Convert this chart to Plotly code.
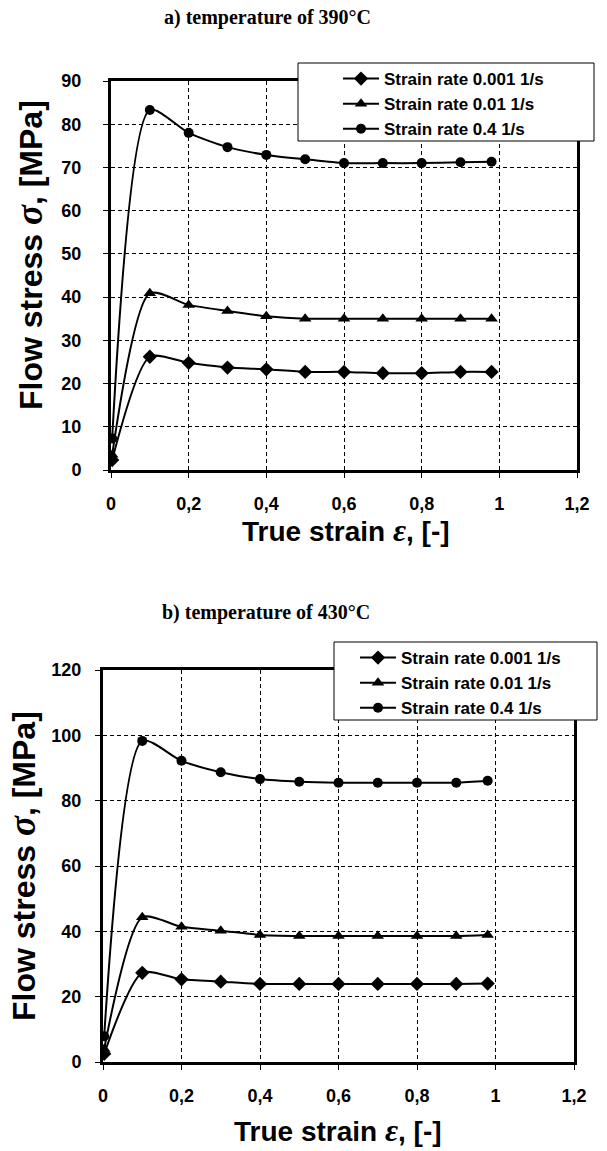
import plotly.graph_objects as go

# ---- data ----
strain = [0.003, 0.1, 0.2, 0.3, 0.4, 0.5, 0.6, 0.7, 0.8, 0.9, 0.98]

a_rate_0001 = [2.3, 26.2, 24.8, 23.7, 23.3, 22.7, 22.7, 22.4, 22.4, 22.7, 22.7]
a_rate_001 = [3.5, 40.9, 38.2, 36.8, 35.6, 35.0, 35.0, 35.0, 35.0, 35.0, 35.0]
a_rate_04 = [7.3, 83.3, 78.0, 74.7, 72.9, 71.9, 71.0, 71.0, 71.0, 71.2, 71.3]

b_rate_0001 = [2.5, 27.3, 25.3, 24.6, 23.9, 23.9, 23.9, 23.9, 23.9, 23.9, 24.0]
b_rate_001 = [4.0, 44.3, 41.4, 40.2, 38.9, 38.6, 38.6, 38.6, 38.6, 38.6, 38.9]
b_rate_04 = [7.9, 98.3, 92.2, 88.7, 86.6, 85.8, 85.5, 85.5, 85.5, 85.5, 86.1]

series_names = ["Strain rate 0.001 1/s", "Strain rate 0.01 1/s", "Strain rate 0.4 1/s"]
symbols = ["diamond", "triangle-up", "circle"]

x_tickvals = [0, 0.2, 0.4, 0.6, 0.8, 1.0, 1.2]
x_ticktext = ["0", "0,2", "0,4", "0,6", "0,8", "1", "1,2"]
a_yticks = [0, 10, 20, 30, 40, 50, 60, 70, 80, 90]
b_yticks = [0, 20, 40, 60, 80, 100, 120]

titles = ["a) temperature of 390°C", "b) temperature of 430°C"]
x_title = "True strain {e}, [-]"
y_title = "Flow stress {s}, [MPa]"

W, H = 607, 1151
fig = go.Figure()

def add_series(vals, xaxis, yaxis, legend):
    for name, sym, y in zip(series_names, symbols, vals):
        fig.add_trace(go.Scatter(
            x=strain, y=y, name="<b>%s</b>" % name, mode="lines+markers",
            line=dict(color="black", width=2, shape="spline", smoothing=0.7),
            marker=dict(symbol=sym, size=11 if sym != "circle" else 10, color="black"),
            xaxis=xaxis, yaxis=yaxis, legend=legend))

add_series([a_rate_0001, a_rate_001, a_rate_04], "x", "y", "legend")
add_series([b_rate_0001, b_rate_001, b_rate_04], "x2", "y2", "legend2")

tickfont = dict(family="Liberation Sans", size=18, color="black")
xtitlefont = dict(family="Liberation Sans", size=28, color="black")
ytitlefont = dict(family="Liberation Sans", size=32, color="black")

def xaxis_cfg(dom, anchor):
    return dict(domain=dom, anchor=anchor, range=[0, 1.2], tickvals=x_tickvals,
                ticktext=["<b>%s</b>" % t for t in x_ticktext], tickfont=tickfont,
                showline=True, linecolor="black", linewidth=3, mirror=True,
                showgrid=True, gridcolor="black", gridwidth=1, griddash="4px,3px",
                zeroline=False, ticks="outside", ticklen=5, tickcolor="black",
                ticklabelstandoff=10, automargin=False)

def yaxis_cfg(dom, anchor, rng, tv, standoff):
    return dict(domain=dom, anchor=anchor, range=rng, tickvals=tv,
                ticktext=["<b>%d</b>" % t for t in tv], tickfont=tickfont,
                showline=True, linecolor="black", linewidth=3, mirror=True,
                showgrid=True, gridcolor="black", gridwidth=1, griddash="4px,3px",
                zeroline=False, ticks="outside", ticklen=5, tickcolor="black",
                ticklabelstandoff=standoff, automargin=False)

xt = "<b>%s</b>" % x_title.format(
    e='<span style="font-family:Liberation Serif;font-size:32px"><i>ε</i></span>')
yt = "<b>%s</b>" % y_title.format(
    s='<span style="font-family:Liberation Serif;font-size:37px"><i>σ</i></span>')

def legend_cfg(x, y):
    return dict(x=x / W, y=1 - y / H, xanchor="left", yanchor="top",
                bgcolor="rgba(0,0,0,0)", borderwidth=0,
                font=dict(family="Liberation Sans", size=17, color="black"),
                itemwidth=36, tracegroupgap=0)

def ann(text, x, y, font, angle=0):
    return dict(text=text, x=x / W, y=1 - y / H, xref="paper", yref="paper",
                xanchor="center", yanchor="middle", textangle=angle,
                showarrow=False, font=font)

fig.update_layout(
    width=W, height=H, margin=dict(l=0, r=0, t=0, b=0, autoexpand=False),
    paper_bgcolor="white", plot_bgcolor="white",
    showlegend=True,
    xaxis=xaxis_cfg([111 / W, 577 / W], "y"),
    yaxis=yaxis_cfg([1 - 470 / H, 1 - 81 / H], "x", [0, 90], a_yticks, 18),
    xaxis2=xaxis_cfg([103 / W, 574 / W], "y2"),
    yaxis2=yaxis_cfg([1 - 1062 / H, 1 - 670 / H], "x2", [0, 120], b_yticks, 10),
    legend=legend_cfg(338, 61),
    legend2=legend_cfg(355, 640),
    shapes=[
        dict(type="rect", xref="paper", yref="paper", layer="above",
             x0=298 / W, x1=594 / W, y0=1 - 141 / H, y1=1 - 63 / H,
             line=dict(color="black", width=1), fillcolor="white"),
        dict(type="rect", xref="paper", yref="paper", layer="above",
             x0=334 / W, x1=597 / W, y0=1 - 720 / H, y1=1 - 642 / H,
             line=dict(color="black", width=1), fillcolor="white"),
    ],
    annotations=[
        ann("<b>%s</b>" % titles[0], 267, 17, dict(family="Liberation Serif", size=20, color="black")),
        ann("<b>%s</b>" % titles[1], 266, 612, dict(family="Liberation Serif", size=20, color="black")),
        ann(xt, 346, 530, xtitlefont),
        ann(xt, 338, 1130, xtitlefont),
        ann(yt, 30, 255, ytitlefont, -90),
        ann(yt, 22, 866, ytitlefont, -90),
    ],
)

fig.write_html("out.html", config={"displayModeBar": False},
               post_script="document.body.style.margin='0';")
